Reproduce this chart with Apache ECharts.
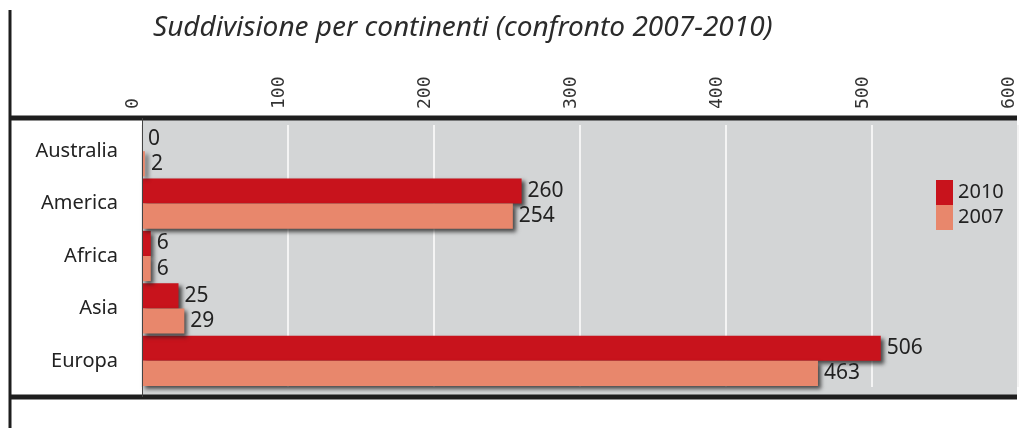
<!DOCTYPE html>
<html>
<head>
<meta charset="utf-8">
<script src="https://cdn.jsdelivr.net/npm/echarts@6/dist/echarts.min.js"></script>
<style>
  html, body { margin: 0; padding: 0; background: #ffffff; }
  #chart { width: 1026px; height: 428px; }
</style>
</head>
<body>
<div id="chart"></div>
<script>
// Continents, top to bottom
const categories = ['Australia', 'America', 'Africa', 'Asia', 'Europa'];
const values2010 = [0, 260, 6, 25, 506];
const values2007 = [2, 254, 6, 29, 463];
const seriesNames = ['2010', '2007'];
const axisTicks = [0, 100, 200, 300, 400, 500, 600];
const titleText = 'Suddivisione per continenti (confronto 2007-2010)';

const RED = '#c8131c';
const SALMON = '#e8876c';
const GRID = { left: 142, width: 876, top: 125, height: 262 };

const barShadow = {
  shadowColor: 'rgba(30,30,30,0.75)',
  shadowBlur: 4,
  shadowOffsetX: 3,
  shadowOffsetY: 3
};

const valueLabel = {
  show: true,
  position: 'right',
  distance: 6,
  color: '#222',
  fontFamily: 'Noto Sans',
  fontSize: 21
};

const chart = echarts.init(document.getElementById('chart'));
chart.setOption({
  animation: false,
  title: {
    text: titleText,
    left: 148,
    top: 9,
    textStyle: {
      fontFamily: 'Noto Sans',
      fontStyle: 'italic',
      fontWeight: 'normal',
      fontSize: 28,
      color: '#2b2b2b'
    }
  },
  legend: {
    data: seriesNames,
    orient: 'vertical',
    left: 931,
    top: 175,
    itemWidth: 17,
    itemHeight: 25,
    itemGap: 0,
    icon: 'rect',
    textStyle: { fontFamily: 'Noto Sans', fontSize: 20, color: '#222' }
  },
  grid: GRID,
  xAxis: {
    type: 'value',
    position: 'top',
    min: axisTicks[0],
    max: axisTicks[axisTicks.length - 1],
    interval: 100,
    axisLine: { show: false },
    axisTick: { show: false },
    axisLabel: {
      rotate: -90,
      verticalAlign: 'bottom',
      margin: 16,
      fontFamily: 'DejaVu Sans Mono',
      fontSize: 18,
      color: '#333'
    },
    splitLine: { show: true, lineStyle: { color: '#f4f4f4', width: 2 } }
  },
  yAxis: {
    type: 'category',
    data: categories,
    inverse: true,
    axisLine: { show: false },
    axisTick: { show: false },
    axisLabel: {
      margin: 24,
      fontFamily: 'Noto Sans',
      fontSize: 20,
      color: '#222'
    }
  },
  series: [
    {
      name: seriesNames[0],
      type: 'bar',
      data: values2010,
      barGap: '0%',
      barCategoryGap: '4%',
      itemStyle: Object.assign({ color: RED }, barShadow),
      label: valueLabel
    },
    {
      name: seriesNames[1],
      type: 'bar',
      data: values2007,
      barGap: '0%',
      barCategoryGap: '4%',
      itemStyle: Object.assign({ color: SALMON }, barShadow),
      label: valueLabel
    }
  ],
  graphic: [
    // grey plotting field
    {
      type: 'rect',
      z: -10,
      silent: true,
      shape: { x: 143, y: 120, width: 874, height: 275 },
      style: { fill: '#d3d5d6' }
    },
    // frame rules
    {
      type: 'line',
      z: 100,
      silent: true,
      shape: { x1: 10, y1: 10, x2: 10, y2: 428 },
      style: { stroke: '#1e1e1e', lineWidth: 3 }
    },
    {
      type: 'line',
      z: 100,
      silent: true,
      shape: { x1: 9, y1: 118, x2: 1017, y2: 118 },
      style: { stroke: '#1e1e1e', lineWidth: 5 }
    },
    {
      type: 'line',
      z: 100,
      silent: true,
      shape: { x1: 9, y1: 397, x2: 1017, y2: 397 },
      style: { stroke: '#1e1e1e', lineWidth: 5 }
    },
    {
      type: 'line',
      z: 100,
      silent: true,
      shape: { x1: 142.5, y1: 118, x2: 142.5, y2: 397 },
      style: { stroke: '#444', lineWidth: 1 }
    }
  ]
});
</script>
</body>
</html>
